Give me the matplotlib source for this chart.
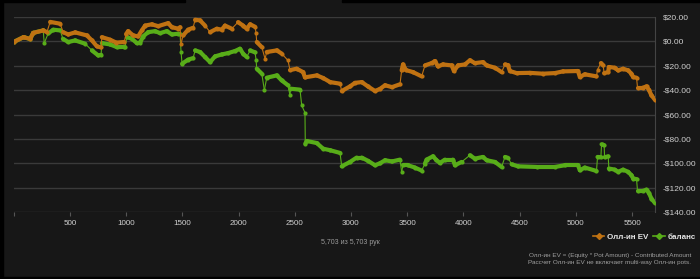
import numpy as np
import matplotlib
matplotlib.use('Agg')
import matplotlib.pyplot as plt
from matplotlib.collections import LineCollection
from matplotlib.lines import Line2D
from matplotlib.patches import Rectangle

plt.rcParams['font.family'] = ['Liberation Sans', 'DejaVu Sans']

# hand number / value
ev_hands = [0, 88, 147, 174, 263, 296, 325, 414, 440, 485, 547, 651, 696, 740, 778,
            784, 858, 912, 983, 1000, 1018, 1063, 1107, 1140, 1169, 1229, 1285, 1374,
            1407, 1463, 1480, 1489, 1507, 1552, 1596, 1614, 1658, 1702, 1747, 1807,
            1851, 1880, 1940, 1996, 2040, 2073, 2103, 2147, 2156, 2162, 2207, 2236,
            2251, 2340, 2384, 2440, 2458, 2518, 2574, 2591, 2696, 2752, 2815, 2903,
            2918, 2992, 3036, 3096, 3152, 3214, 3258, 3303, 3365, 3436, 3451, 3463,
            3489, 3552, 3629, 3658, 3718, 3747, 3774, 3818, 3896, 3916, 3952, 4014,
            4058, 4102, 4174, 4207, 4281, 4340, 4370, 4396, 4414, 4473, 4591, 4707,
            4814, 4885, 5019, 5036, 5080, 5184, 5193, 5223, 5243, 5252, 5288, 5294,
            5347, 5376, 5421, 5465, 5495, 5510, 5540, 5549, 5596, 5629, 5649, 5673,
            5703]
ev_values = [-0.5, 3.5, 2, 7, 9, 7.6, 16, 14.5, 7.6, 5.7, 7.4, 4.9, 0.8, -4, -5,
             3.5, 1.4, -1, -0.5, 6, 8.4, 4.9, 4.1, 9, 13, 14, 12.5, 15,
             11.7, 10.4, 11.7, -1.9, 4.9, 9.6, 11.2, 17.8, 17.2, 13, 7.6, 10.4,
             9.6, 13, 10.4, 15.8, 13, 10.4, 14, 12, 6.8, -0.5, -4.7, -14.2,
             -8.7, -7.4, -10, -15.6, -23.5, -22.4, -25.2, -29.5, -27.9, -30, -33.4, -34.7,
             -40.7, -36.9, -34, -33.4, -37, -40.7, -39, -36, -37.5, -35.2, -23.8, -18.9,
             -23.5, -25.2, -28.7, -19.7, -17.8, -16.1, -20.5, -18.9, -19.7, -24.3, -19.7, -18.9,
             -15.5, -17.8, -17, -19.7, -21.6, -25.2, -18.9, -19.5, -24.3, -26, -25.8, -26.5,
             -26, -24.6, -24.3, -29.2, -27, -28.7, -23.2, -17.8, -19.7, -26, -25.2, -21,
             -21.6, -23.8, -22.4, -23.8, -26.5, -29.2, -29.8, -38, -38, -36.9, -39.6, -44.3,
             -47.8]

bal_hands = [0, 88, 147, 174, 263, 272, 307, 352, 414, 438, 485, 547, 636, 696, 752,
             778, 784, 858, 918, 983, 991, 1007, 1051, 1096, 1125, 1151, 1196, 1258,
             1302, 1362, 1407, 1463, 1480, 1489, 1498, 1552, 1596, 1614, 1658, 1702,
             1747, 1791, 1851, 1907, 1969, 2013, 2040, 2073, 2103, 2147, 2156, 2162,
             2207, 2230, 2251, 2340, 2384, 2440, 2458, 2462, 2547, 2562, 2591, 2594,
             2607, 2696, 2752, 2815, 2903, 2918, 2992, 3051, 3096, 3152, 3214, 3258,
             3303, 3365, 3436, 3451, 3463, 3507, 3569, 3629, 3658, 3673, 3729, 3756,
             3791, 3836, 3907, 3925, 3984, 4058, 4102, 4174, 4207, 4281, 4340, 4370,
             4396, 4429, 4485, 4651, 4814, 4903, 5019, 5036, 5080, 5184, 5193, 5223,
             5229, 5252, 5256, 5288, 5294, 5347, 5376, 5421, 5465, 5495, 5510, 5540,
             5549, 5596, 5629, 5649, 5673, 5703]
bal_values = [-0.5, 3.5, 2, 7, 9, -1.4, 6.5, 9.6, 9, 2.2, -0.5, 0.8, -1.9, -7.4, -11.5,
              -11, -1.4, -2.5, -4.7, -4.5, -4.7, 3.5, 2.2, -1.4, -1, 4, 7.6, 8.4,
              6.8, 8.4, 5.7, 6.3, 6.3, -8.7, -18.3, -15, -13.7, -7.4, -8.7, -12.8,
              -17, -12.3, -10.7, -9.6, -7.9, -6, -10, -12.8, -7.4, -9, -15, -22.4,
              -26.5, -40, -29.8, -27.9, -32, -36, -44.3, -38.8, -39.6, -52.5, -58.5, -83.9,
              -81.7, -83.4, -88, -89.3, -91.5, -102.5, -98.9, -95.3, -95.3, -98, -101.6, -100,
              -97.5, -98.5, -97, -107, -101.6, -101.6, -103.5, -106, -100.3, -97, -94.3, -97,
              -99.7, -97, -97, -101.6, -98.9, -93.4, -96.2, -94.8, -97.5, -98.9, -103, -94.8,
              -95.5, -100.8, -102.5, -103, -103, -101.6, -101.6, -105.7, -103.5, -106.3, -94.8, -95,
              -84.4, -85.2, -95, -94.3, -104.3, -105.2, -107, -105.2, -107, -109.8, -112.5, -113,
              -122.7, -122.7, -121.6, -124.3, -129, -132.5]

y_ticks = [20, 0, -20, -40, -60, -80, -100, -120, -140]
x_ticks = [0, 500, 1000, 1500, 2000, 2500, 3000, 3500, 4000, 4500, 5000, 5500]
n_hands = 5703

orange = '#c07212'
green = '#58ad19'
bg = '#171717'


def money(v):
    return ('-$%.2f' % abs(v)) if v < 0 else ('$%.2f' % v)


def draw_series(ax, hx, hy, color, z):
    x = np.array(hx, float)
    y = np.array(hy, float)
    pts = np.column_stack([x, y]).reshape(-1, 1, 2)
    segs = np.concatenate([pts[:-1], pts[1:]], axis=1)
    jump = np.abs(np.diff(y)) > 5
    widths = np.where(jump, 0.8, 3.0)
    lc = LineCollection(segs, colors=color, linewidths=widths, zorder=z,
                        capstyle='round', joinstyle='round')
    ax.add_collection(lc)
    ax.plot(x, y, 'o', color=color, ms=3.0, mew=0, zorder=z)


fig = plt.figure(figsize=(7, 2.79), dpi=100, facecolor=bg)
ax = fig.add_axes([0.0195, 0.24, 0.916, 0.699])
ax.set_facecolor(bg)

draw_series(ax, bal_hands, bal_values, green, 3)
draw_series(ax, ev_hands, ev_values, orange, 4)

ax.set_xlim(0, n_hands)
ax.set_ylim(-140, 20)
ax.set_yticks(y_ticks)
ax.set_yticklabels([money(v) for v in y_ticks])
ax.yaxis.tick_right()
ax.tick_params(axis='y', length=0, pad=5.5, labelsize=6, labelcolor='#d0d0d0')
ax.set_xticks(x_ticks)
ax.set_xticklabels([''] + [str(t) for t in x_ticks[1:]])
ax.tick_params(axis='x', length=3, width=0.8, color='#555555', pad=3,
               labelsize=5.8, labelcolor='#d0d0d0')
ax.grid(axis='y', color='#3a3a3a', lw=1)
for s in ['top', 'left', 'bottom']:
    ax.spines[s].set_visible(False)
ax.spines['right'].set_color('#444444')

fig.text(0.5, 0.13, '5,703 из 5,703 рук', ha='center', va='center',
         fontsize=5, color='#9a9a9a')

handles = [Line2D([], [], color=orange, lw=1.2, marker='D', ms=3),
           Line2D([], [], color=green, lw=1.2, marker='D', ms=3)]
leg = fig.legend(handles, ['Олл-ин EV', 'баланс'], loc='center right',
                 bbox_to_anchor=(0.994, 0.151), ncol=2, frameon=False,
                 handlelength=1.4, handletextpad=0.35, columnspacing=0.6,
                 borderaxespad=0, borderpad=0,
                 prop={'size': 5.8, 'weight': 'bold'})
for t in leg.get_texts():
    t.set_color('#e6e6e6')

fig.text(0.987, 0.084, 'Олл-ин EV = (Equity * Pot Amount) - Contributed Amount',
         ha='right', va='center', fontsize=4.6, color='#a0a0a0')
fig.text(0.987, 0.058, 'Рассчет Олл-ин EV не включает multi-way Олл-ин pots.',
         ha='right', va='center', fontsize=4.6, color='#a0a0a0')

# dark frame strips of the screenshot
for r in [(0, 0, 3 / 700, 1), (0, 0, 1, 2 / 279),
          (0, 1 - 2 / 279, 185 / 700, 2 / 279), (342 / 700, 1 - 2 / 279, 358 / 700, 2 / 279)]:
    fig.patches.append(Rectangle(r[:2], r[2], r[3], transform=fig.transFigure,
                                 color='black', zorder=10))

fig.savefig('out.png', dpi=100, facecolor=bg)
